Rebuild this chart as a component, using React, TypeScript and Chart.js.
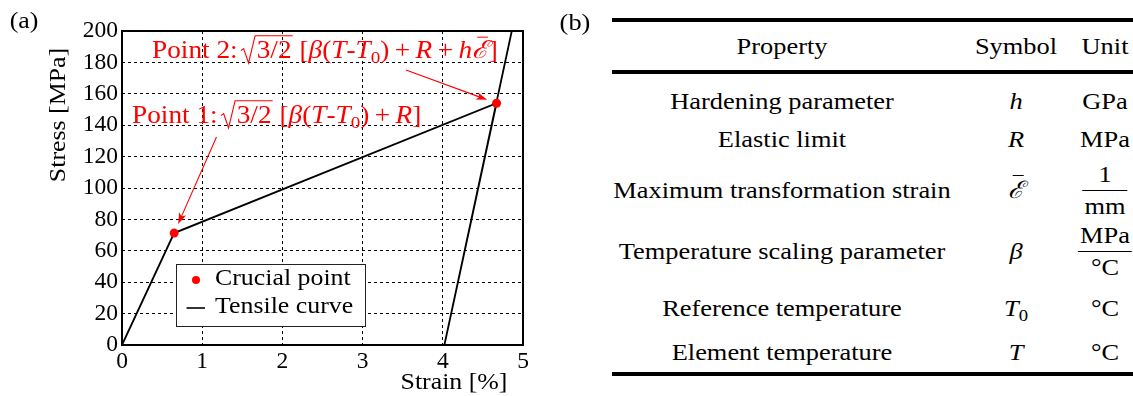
import React, { useEffect, useRef, useState } from "react";
import { Chart, registerables } from "chart.js";

Chart.register(...registerables);

// ---------- data ----------
const crucialStrain = [0.65, 4.67];
const crucialStress = [71.3, 154];
const curveStrain = [0, 0.65, 4.67, 4.02, 4.86];
const curveStress = [0, 71.3, 154, 0, 200];
const xTickValues = [0, 1, 2, 3, 4, 5];
const yTickValues = [0, 20, 40, 60, 80, 100, 120, 140, 160, 180, 200];
const seriesLabels = ["Crucial point", "Tensile curve"];
const xTitle = "Strain [%]";
const yTitle = "Stress [MPa]";

const tableHeaders = ["Property", "Symbol", "Unit"];
const properties = [
  "Hardening parameter",
  "Elastic limit",
  "Maximum transformation strain",
  "Temperature scaling parameter",
  "Reference temperature",
  "Element temperature",
];

// ---------- style ----------
const FONT = '"Liberation Serif", "Times New Roman", Times, serif';
const HS = 1.1;
const RED = "#ff0000";
const ANN_SIZE = 24.8;

type Seg = { t?: string; it?: boolean; sub?: boolean; bar?: boolean; sqrt?: boolean; space?: number };

const point1Label: Seg[] = [
  { t: "Point 1:" },
  { space: 0.12 },
  { t: "3/2", sqrt: true },
  { t: " [" },
  { t: "β", it: true },
  { t: "(" },
  { t: "T", it: true },
  { t: "-" },
  { t: "T", it: true },
  { t: "0", sub: true },
  { t: ")" },
  { space: 0.2 },
  { t: "+" },
  { space: 0.2 },
  { t: "R", it: true },
  { t: "]" },
];
const point2Label: Seg[] = [
  { t: "Point 2:" },
  { space: 0.12 },
  { t: "3/2", sqrt: true },
  { t: " [" },
  { t: "β", it: true },
  { t: "(" },
  { t: "T", it: true },
  { t: "-" },
  { t: "T", it: true },
  { t: "0", sub: true },
  { t: ")" },
  { space: 0.2 },
  { t: "+" },
  { space: 0.2 },
  { t: "R", it: true },
  { space: 0.2 },
  { t: "+" },
  { space: 0.2 },
  { t: "h", it: true },
  { t: "ℰ", it: true, bar: true },
  { t: "]" },
];

function drawRich(ctx: CanvasRenderingContext2D, segs: Seg[], x: number, y: number, size: number, color: string) {
  ctx.save();
  ctx.translate(x, y);
  ctx.scale(HS, 1);
  ctx.fillStyle = color;
  ctx.strokeStyle = color;
  ctx.lineWidth = 1;
  ctx.textAlign = "left";
  ctx.textBaseline = "alphabetic";
  let cx = 0;
  for (const s of segs) {
    if (s.space) {
      cx += s.space * size;
      continue;
    }
    const fs = s.sub ? size * 0.7 : size;
    ctx.font = `${s.it ? "italic " : ""}${fs}px ${FONT}`;
    const w = ctx.measureText(s.t || "").width;
    if (s.sqrt) {
      const top = -size * 0.9;
      ctx.beginPath();
      ctx.moveTo(cx, -size * 0.3);
      ctx.lineTo(cx + size * 0.1, -size * 0.38);
      ctx.lineTo(cx + size * 0.28, size * 0.2);
      ctx.lineTo(cx + size * 0.52, top);
      ctx.lineTo(cx + size * 0.58 + w + size * 0.04, top);
      ctx.stroke();
      ctx.fillText(s.t || "", cx + size * 0.58, 0);
      cx += size * 0.58 + w + size * 0.04;
      continue;
    }
    ctx.fillText(s.t || "", cx, s.sub ? size * 0.22 : 0);
    if (s.bar) {
      ctx.beginPath();
      ctx.moveTo(cx + w * 0.3, -size * 0.84);
      ctx.lineTo(cx + w * 0.95, -size * 0.84);
      ctx.stroke();
    }
    cx += w;
  }
  ctx.restore();
  return cx * HS;
}

function drawText(ctx: CanvasRenderingContext2D, s: string, x: number, y: number, size: number, align: CanvasTextAlign = "center", rot = 0) {
  ctx.save();
  ctx.translate(x, y);
  ctx.rotate(rot);
  ctx.scale(HS, 1);
  ctx.font = `${size}px ${FONT}`;
  ctx.fillStyle = "#000";
  ctx.textAlign = align;
  ctx.textBaseline = "middle";
  ctx.fillText(s, 0, 0);
  ctx.restore();
}

function arrow(ctx: CanvasRenderingContext2D, x1: number, y1: number, x2: number, y2: number, color: string) {
  const ang = Math.atan2(y2 - y1, x2 - x1);
  const L = 11, W = 3.8;
  ctx.save();
  ctx.strokeStyle = color;
  ctx.fillStyle = color;
  ctx.lineWidth = 1.1;
  ctx.beginPath();
  ctx.moveTo(x1, y1);
  ctx.lineTo(x2 - Math.cos(ang) * L * 0.7, y2 - Math.sin(ang) * L * 0.7);
  ctx.stroke();
  ctx.beginPath();
  ctx.moveTo(x2, y2);
  ctx.lineTo(x2 - Math.cos(ang) * L - Math.sin(ang) * W, y2 - Math.sin(ang) * L + Math.cos(ang) * W);
  ctx.lineTo(x2 - Math.cos(ang) * L * 0.75, y2 - Math.sin(ang) * L * 0.75);
  ctx.lineTo(x2 - Math.cos(ang) * L + Math.sin(ang) * W, y2 - Math.sin(ang) * L - Math.cos(ang) * W);
  ctx.closePath();
  ctx.fill();
  ctx.restore();
}

const decor = {
  id: "decor",
  afterDraw(chart: any) {
    const { ctx, chartArea: a, scales } = chart;
    ctx.save();
    ctx.strokeStyle = "#000";
    ctx.lineWidth = 2;
    ctx.strokeRect(a.left, a.top, a.right - a.left, a.bottom - a.top);
    ctx.restore();

    const p1x = scales.x.getPixelForValue(crucialStrain[0]);
    const p1y = scales.y.getPixelForValue(crucialStress[0]);
    const p2x = scales.x.getPixelForValue(crucialStrain[1]);
    const p2y = scales.y.getPixelForValue(crucialStress[1]);
    const s1 = { x: 216.5, y: 137 };
    const s2 = { x: 406, y: 70 };
    const gap = 10;
    const d1 = Math.hypot(s1.x - p1x, s1.y - p1y);
    const d2 = Math.hypot(s2.x - p2x, s2.y - p2y);
    arrow(ctx, s1.x, s1.y, p1x + ((s1.x - p1x) / d1) * gap, p1y + ((s1.y - p1y) / d1) * gap, RED);
    arrow(ctx, s2.x, s2.y, p2x + ((s2.x - p2x) / d2) * gap, p2y + ((s2.y - p2y) / d2) * gap, RED);
    drawRich(ctx, point1Label, 132, 123, ANN_SIZE, RED);
    drawRich(ctx, point2Label, 152, 58, ANN_SIZE, RED);

    const lx = 176, ly = 264, lw = 189, lh = 62;
    ctx.save();
    ctx.fillStyle = "#fff";
    ctx.fillRect(lx, ly, lw, lh);
    ctx.strokeStyle = "#222";
    ctx.lineWidth = 1;
    ctx.strokeRect(lx + 0.5, ly + 0.5, lw, lh);
    const ds = chart.data.datasets;
    ctx.fillStyle = ds[0].backgroundColor;
    ctx.beginPath();
    ctx.arc(196, 280, 4, 0, Math.PI * 2);
    ctx.fill();
    ctx.strokeStyle = ds[1].borderColor;
    ctx.lineWidth = 1.6;
    ctx.beginPath();
    ctx.moveTo(186.5, 308);
    ctx.lineTo(205, 308);
    ctx.stroke();
    ctx.restore();
    drawText(ctx, ds[0].label, 215, 279, 23.5, "left");
    drawText(ctx, ds[1].label, 215, 307, 23.5, "left");

    drawText(ctx, yTitle, 59, 115, 23.5, "center", -Math.PI / 2);
    drawText(ctx, xTitle, 454, 383, 23.5, "center");
    drawText(ctx, "(a)", 24, 22, 23.5, "center");
  },
};

function ChartPanel() {
  const ref = useRef<HTMLCanvasElement | null>(null);
  useEffect(() => {
    if (!ref.current) return;
    const tickFont = { family: FONT, size: 23.5 };
    const chart = new Chart(ref.current, {
      type: "scatter",
      data: {
        datasets: [
          {
            label: seriesLabels[0],
            data: crucialStrain.map((x, i) => ({ x, y: crucialStress[i] })),
            backgroundColor: RED,
            borderColor: RED,
            pointRadius: 4.5,
            pointBorderWidth: 0,
            showLine: false,
            order: 0,
          },
          {
            label: seriesLabels[1],
            data: curveStrain.map((x, i) => ({ x, y: curveStress[i] })),
            borderColor: "#000",
            backgroundColor: "#000",
            borderWidth: 1.8,
            pointRadius: 0,
            showLine: true,
            order: 1,
          },
        ],
      } as any,
      options: {
        animation: false,
        responsive: false,
        devicePixelRatio: 1,
        layout: { padding: { top: 31, right: 37, left: 0, bottom: 0 } },
        plugins: { legend: { display: false }, tooltip: { enabled: false } },
        scales: {
          x: {
            type: "linear",
            min: xTickValues[0],
            max: xTickValues[xTickValues.length - 1],
            afterFit: (s: any) => {
              s.height = 51;
            },
            afterBuildTicks: (s: any) => {
              s.ticks = xTickValues.map((v) => ({ value: v }));
            },
            ticks: { color: "#000", font: tickFont, padding: 3, maxRotation: 0 },
            grid: { color: "#000", lineWidth: 1, drawTicks: false },
            border: { display: false, dash: [3, 3] },
          },
          y: {
            type: "linear",
            min: yTickValues[0],
            max: yTickValues[yTickValues.length - 1],
            afterFit: (s: any) => {
              s.width = 122;
            },
            afterBuildTicks: (s: any) => {
              s.ticks = yTickValues.map((v) => ({ value: v }));
            },
            ticks: { color: "#000", font: tickFont, padding: 4 },
            grid: { color: "#000", lineWidth: 1, drawTicks: false },
            border: { display: false, dash: [3, 3] },
          },
        },
      } as any,
      plugins: [decor],
    });
    return () => chart.destroy();
  }, []);
  return <canvas ref={ref} width={560} height={396} style={{ position: "absolute", left: 0, top: 0 }} />;
}

const cellBase: React.CSSProperties = {
  position: "absolute",
  transform: "translate(-50%, -50%) scaleX(1.1)",
  whiteSpace: "nowrap",
  fontFamily: FONT,
  fontSize: 24,
  lineHeight: 1,
  color: "#000",
};

function Cell({ x, y, children }: { x: number; y: number; children: React.ReactNode }) {
  return <div style={{ ...cellBase, left: x, top: y }}>{children}</div>;
}

function Frac({ num, den }: { num: React.ReactNode; den: React.ReactNode }) {
  return (
    <div style={{ display: "inline-flex", flexDirection: "column", alignItems: "center" }}>
      <div style={{ padding: "0 2px 4px" }}>{num}</div>
      <div style={{ height: 1, background: "#000", alignSelf: "stretch" }} />
      <div style={{ padding: "3px 2px 0" }}>{den}</div>
    </div>
  );
}

const I = ({ children }: { children: React.ReactNode }) => <span style={{ fontStyle: "italic" }}>{children}</span>;

const symbols: React.ReactNode[] = [
  <I>h</I>,
  <I>R</I>,
  <span style={{ position: "relative", display: "inline-block", fontStyle: "italic" }}>
    ℰ
    <span style={{ position: "absolute", left: "25%", right: "0%", top: -3, height: 1, background: "#000" }} />
  </span>,
  <I>β</I>,
  <span>
    <I>T</I>
    <span style={{ fontSize: 17, position: "relative", top: 5 }}>0</span>
  </span>,
  <I>T</I>,
];

const units: React.ReactNode[] = [
  "GPa",
  "MPa",
  <Frac num="1" den="mm" />,
  <Frac num="MPa" den="°C" />,
  "°C",
  "°C",
];

const colX = [782, 1016, 1105];
const headerY = 46;
const rowY = [101, 139, 190, 251, 308, 352];
const ruleY = [18, 70, 372];

function TablePanel() {
  return (
    <>
      <Cell x={575} y={22}>(b)</Cell>
      {ruleY.map((y, i) => (
        <div key={i} style={{ position: "absolute", left: 612, width: 521, top: y, height: 4, background: "#000" }} />
      ))}
      {tableHeaders.map((h, i) => (
        <Cell key={h} x={colX[i]} y={headerY}>
          {h}
        </Cell>
      ))}
      {properties.map((p, r) => (
        <React.Fragment key={p}>
          <Cell x={colX[0]} y={rowY[r]}>{p}</Cell>
          <Cell x={colX[1]} y={rowY[r]}>{symbols[r]}</Cell>
          <Cell x={colX[2]} y={rowY[r]}>{units[r]}</Cell>
        </React.Fragment>
      ))}
    </>
  );
}

export default function App() {
  const [ready, setReady] = useState(false);
  useEffect(() => {
    let alive = true;
    const fs: any = (document as any).fonts;
    const loads = fs
      ? Promise.all([
          fs.load('23px "Liberation Serif"', "Property"),
          fs.load('italic 23px "Liberation Serif"', "TRh"),
        ]).then(() => fs.ready)
      : Promise.resolve();
    loads
      .catch(() => undefined)
      .then(() => {
        if (alive) setReady(true);
      });
    return () => {
      alive = false;
    };
  }, []);
  return (
    <div style={{ position: "absolute", left: 0, top: 0, width: 1133, height: 396, overflow: "hidden", background: "#fff", fontFamily: FONT }}>
      {ready && <ChartPanel />}
      {ready && <TablePanel />}
    </div>
  );
}
